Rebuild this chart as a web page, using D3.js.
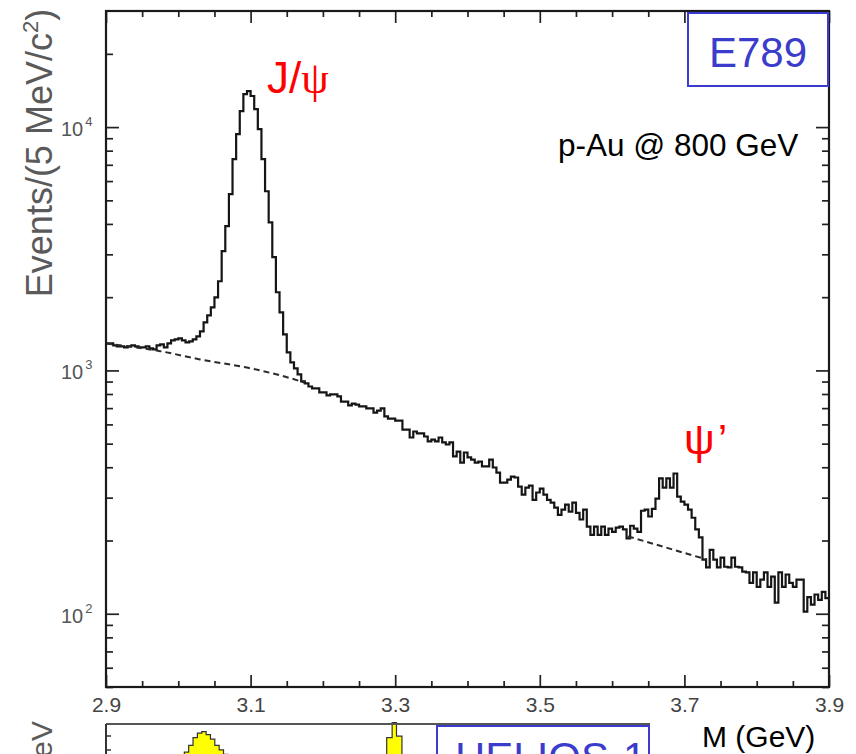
<!DOCTYPE html>
<html>
<head>
<meta charset="utf-8">
<script src="https://cdn.jsdelivr.net/npm/d3@7"></script>
<style>
  body { margin: 0; background: #fff; }
  svg { display: block; }
  text { font-family: "Liberation Sans", Arial, sans-serif; }
</style>
</head>
<body>
<svg id="chart" width="856" height="754"></svg>
<script>
// Dimuon invariant-mass spectrum, 5 MeV bins from 2.900 to 3.900 GeV
const binStart = 2.9;
const binWidth = 0.005;
const counts = [
  1292, 1292, 1267, 1255, 1255, 1244, 1255, 1267, 1255, 1244,
  1244, 1255, 1232, 1220, 1267, 1280, 1244, 1292, 1329, 1342,
  1355, 1329, 1304, 1316, 1342, 1380, 1446, 1577, 1684, 1816,
  1995, 2325, 3090, 3915, 5300, 7380, 9360, 11640, 13670, 14060,
  13420, 11860, 9810, 7380, 5450, 4060, 2920, 2095, 1733, 1406,
  1186, 1079, 1019, 963, 901, 885, 859, 843, 843, 812,
  812, 789, 797, 797, 782, 745, 745, 718, 731, 724,
  711, 711, 698, 698, 671, 684, 698, 647, 634, 634,
  622, 622, 571, 571, 530, 561, 551, 551, 535, 511,
  520, 511, 530, 506, 496, 506, 443, 464, 418, 460,
  439, 430, 418, 422, 403, 403, 430, 399, 380, 346,
  346, 356, 366, 363, 333, 309, 330, 336, 294, 315,
  327, 309, 294, 286, 273, 255, 268, 281, 263, 286,
  260, 244, 268, 228, 211, 228, 211, 228, 211, 224,
  217, 226, 228, 222, 204, 230, 224, 217, 265, 268,
  251, 270, 297, 360, 330, 360, 330, 377, 303, 289,
  281, 268, 248, 222, 206, 167, 155, 183, 167, 155,
  170, 156, 155, 170, 156, 155, 149, 148, 134, 148,
  129, 138, 148, 129, 142, 111, 148, 129, 145, 134,
  129, 138, 138, 102, 117, 109, 120, 114, 123, 116
];

// Background fit (dashed) below the J/psi and under the psi'
const bgFitLow = [[2.9, 1290], [2.975, 1200], [3.03, 1110], [3.10, 1020], [3.165, 910], [3.175, 890]];
const bgFitPsiPrime = [[3.622, 208], [3.731, 167]];

// Axis ticks
const xMajorTicks = [2.9, 3.1, 3.3, 3.5, 3.7, 3.9];
const xMinorTicks = [2.95, 3.0, 3.05, 3.15, 3.2, 3.25, 3.35, 3.4, 3.45, 3.55, 3.6, 3.65, 3.75, 3.8, 3.85];
const yDecadeTicks = [100, 1000, 10000];
const yDecadeExponents = ["2", "3", "4"];
const yMinorTicks = [50, 60, 70, 80, 90, 200, 300, 400, 500, 600, 700, 800, 900,
  2000, 3000, 4000, 5000, 6000, 7000, 8000, 9000, 20000];

// Lower (HELIOS-1) panel, only its top edge is visible
const lowerPeakEdges = [3.044, 3.052, 3.060, 3.068, 3.076, 3.084, 3.092, 3.100, 3.108, 3.116, 3.124];
const lowerPeakCounts = [63, 72, 82, 88, 90, 86, 80, 72, 66, 60];
const lowerSpikeEdges = [3.416, 3.426, 3.434, 3.444];
const lowerSpikeCounts = [82, 102, 84];

const svg = d3.select("#chart");
const L = 106, R = 829, T = 11, B = 687;

const x = d3.scaleLinear().domain([2.9, 3.9]).range([L, R]);
const y = d3.scaleLog().domain([50, 30000]).range([B, T]);

// ---------- axes (ticks point inward on all four sides) ----------
function tickGroup(axis, tx, ty) {
  const g = svg.append("g").attr("transform", `translate(${tx},${ty})`).call(axis);
  g.select(".domain").remove();
  g.selectAll(".tick line").attr("stroke", "#222").attr("stroke-width", 1.7);
  return g;
}
tickGroup(d3.axisBottom(x).tickValues(xMinorTicks).tickSize(-6).tickFormat(""), 0, B);
tickGroup(d3.axisTop(x).tickValues(xMinorTicks).tickSize(-6).tickFormat(""), 0, T);
tickGroup(d3.axisTop(x).tickValues(xMajorTicks).tickSize(-12).tickFormat(""), 0, T);
const xb = tickGroup(d3.axisBottom(x).tickValues(xMajorTicks).tickSize(-12)
  .tickPadding(10).tickFormat(d3.format(".1f")), 0, B);
xb.selectAll(".tick text")
  .attr("font-size", 21).attr("fill", "#444")
  .attr("font-family", "Liberation Sans, Arial, sans-serif");

tickGroup(d3.axisLeft(y).tickValues(yMinorTicks).tickSize(-7).tickFormat(""), L, 0);
tickGroup(d3.axisLeft(y).tickValues(yDecadeTicks).tickSize(-13).tickFormat(""), L, 0);
tickGroup(d3.axisRight(y).tickValues(yMinorTicks).tickSize(-7).tickFormat(""), R, 0);
tickGroup(d3.axisRight(y).tickValues(yDecadeTicks).tickSize(-13).tickFormat(""), R, 0);

// decade labels 10^n
const yl = svg.append("g").selectAll("text").data(yDecadeTicks).join("text")
  .attr("x", 61).attr("y", d => y(d) + 9)
  .attr("font-size", 20).attr("fill", "#555");
yl.append("tspan").text("10");
yl.append("tspan").attr("dx", 2).attr("dy", -10).attr("font-size", 13)
  .text((d, i) => yDecadeExponents[i]);

// ---------- histogram ----------
const stepPts = counts.map((c, i) => [binStart + i * binWidth, c]);
stepPts.push([binStart + counts.length * binWidth, counts[counts.length - 1]]);

svg.append("path")
  .datum(stepPts)
  .attr("fill", "none")
  .attr("stroke", "#151515")
  .attr("stroke-width", 2.2)
  .attr("stroke-linejoin", "miter")
  .attr("d", d3.line().x(d => x(d[0])).y(d => y(d[1])).curve(d3.curveStepAfter));

// background fits
const fitLine = d3.line().x(d => x(d[0])).y(d => y(d[1])).curve(d3.curveMonotoneX);
[bgFitLow, bgFitPsiPrime].forEach(seg => {
  svg.append("path").datum(seg)
    .attr("fill", "none").attr("stroke", "#2a2a2a")
    .attr("stroke-width", 2).attr("stroke-dasharray", "6,4")
    .attr("d", fitLine);
});

// frame
svg.append("rect").attr("x", L).attr("y", T).attr("width", R - L).attr("height", B - T)
  .attr("fill", "none").attr("stroke", "#1a1a1a").attr("stroke-width", 2.2);

// ---------- annotations ----------
svg.append("text")
  .attr("transform", "translate(52,153) rotate(-90)")
  .attr("text-anchor", "middle").attr("font-size", 36).attr("fill", "#5a5a5a")
  .call(t => {
    t.append("tspan").text("Events/(5 MeV/c");
    t.append("tspan").attr("dy", -14).attr("font-size", 22).text("2");
    t.append("tspan").attr("dy", 14).text(")");
  });

const jpsi = svg.append("text").attr("x", 267).attr("y", 93)
  .attr("font-size", 44).attr("fill", "#ff0000");
jpsi.append("tspan").text("J/");
jpsi.append("tspan").attr("font-family", "Liberation Serif, serif").text("ψ");

const psip = svg.append("text").attr("x", 684).attr("y", 454)
  .attr("font-size", 43).attr("fill", "#ff0000")
  .attr("font-family", "Liberation Serif, serif");
psip.append("tspan").text("ψ");
psip.append("tspan").attr("dx", 3).text("’");

svg.append("text").attr("x", 558).attr("y", 156)
  .attr("font-size", 31.5).attr("fill", "#000").text("p-Au @ 800 GeV");

svg.append("rect").attr("x", 688).attr("y", 13).attr("width", 140).attr("height", 73)
  .attr("fill", "#fff").attr("stroke", "#3b3bcf").attr("stroke-width", 2);
svg.append("text").attr("x", 758).attr("y", 67).attr("text-anchor", "middle")
  .attr("font-size", 42).attr("fill", "#3b3bcc").text("E789");

svg.append("text").attr("x", 702).attr("y", 747)
  .attr("font-size", 30).attr("fill", "#000").text("M (GeV)");

// ---------- lower panel (HELIOS-1), top edge ----------
const lx = d3.scaleLinear().domain([2.9, 3.9]).range([L, 650]);
const ly = d3.scaleLinear().domain([0, 100]).range([800, 724]);

function histArea(edges, vals) {
  const pts = vals.map((v, i) => [edges[i], v]);
  pts.push([edges[edges.length - 1], vals[vals.length - 1]]);
  return pts;
}
const lowerArea = d3.area().x(d => lx(d[0])).y0(ly(0)).y1(d => ly(d[1])).curve(d3.curveStepAfter);
[[lowerPeakEdges, lowerPeakCounts], [lowerSpikeEdges, lowerSpikeCounts]].forEach(([e, v]) => {
  svg.append("path").datum(histArea(e, v))
    .attr("fill", "#ffff00").attr("stroke", "#333").attr("stroke-width", 1.2)
    .attr("d", lowerArea);
});

svg.append("line").attr("x1", L).attr("x2", 650).attr("y1", 724).attr("y2", 724)
  .attr("stroke", "#555").attr("stroke-width", 2);
svg.append("line").attr("x1", L).attr("x2", L).attr("y1", 724).attr("y2", 754)
  .attr("stroke", "#333").attr("stroke-width", 2);
[736, 750].forEach(v => svg.append("line").attr("x1", L).attr("x2", L + 5)
  .attr("y1", v).attr("y2", v).attr("stroke", "#333").attr("stroke-width", 1.5));

svg.append("rect").attr("x", 437).attr("y", 726).attr("width", 212).attr("height", 70)
  .attr("fill", "#fff").attr("stroke", "#3b3bcf").attr("stroke-width", 2);
svg.append("text").attr("x", 455).attr("y", 772)
  .attr("font-size", 42).attr("fill", "#3b3bcc").text("HELIOS-1");

svg.append("text")
  .attr("transform", "translate(52,721) rotate(-90)")
  .attr("text-anchor", "end").attr("font-size", 30).attr("fill", "#5a5a5a")
  .text("eV");
</script>
</body>
</html>
